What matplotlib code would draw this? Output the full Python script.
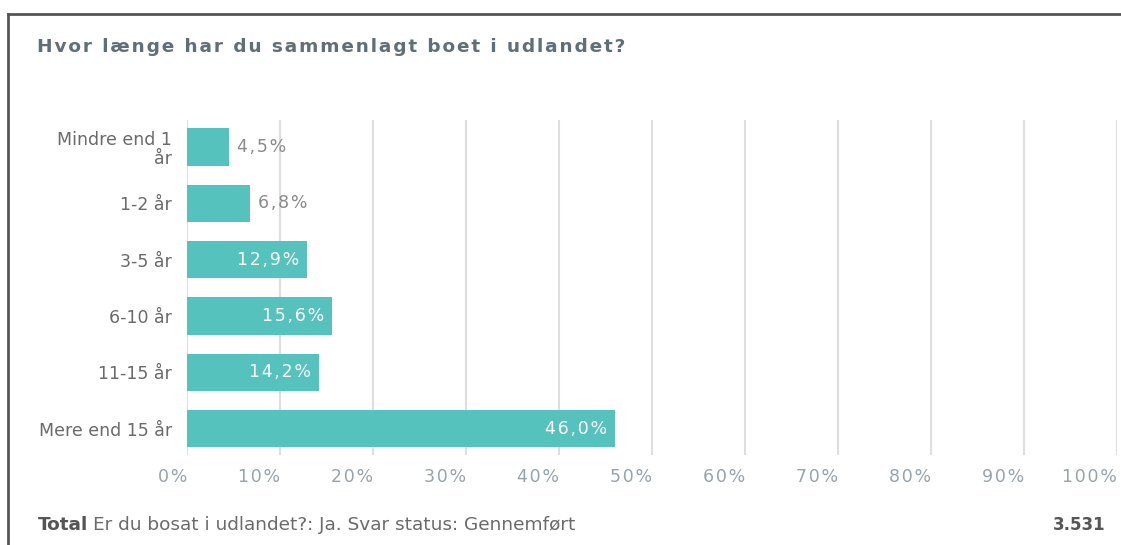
import matplotlib.pyplot as plt
from matplotlib.lines import Line2D

# data
categories = ['Mindre end 1\når', '1-2 år', '3-5 år', '6-10 år', '11-15 år', 'Mere end 15 år']
shares = [4.5, 6.8, 12.9, 15.6, 14.2, 46.0]
value_labels = ['4,5%', '6,8%', '12,9%', '15,6%', '14,2%', '46,0%']
ticks = [0, 10, 20, 30, 40, 50, 60, 70, 80, 90, 100]
tick_labels = ['%d%%' % t for t in ticks]

title = 'Hvor længe har du sammenlagt boet i udlandet?'
footer_bold = 'Total'
footer_text = 'Er du bosat i udlandet?: Ja. Svar status: Gennemført'
total_n = '3.531'

teal = '#56c2bd'
grid_col = '#dedede'
HAIR = '\u200a'


def spaced(s, n=1):
    # fake letter spacing with hair spaces
    return (HAIR * n).join(s)


W, H = 1121, 545
fig = plt.figure(figsize=(W / 100, H / 100), dpi=100)
fig.patch.set_facecolor('white')

ax = fig.add_axes([187 / W, 1 - 455 / H, 930 / W, 335 / H])
ypos = list(range(len(categories)))
ax.barh(ypos, shares, height=0.66, color=teal, zorder=2)
ax.set_xlim(0, 100)
ax.set_ylim(5.47, -0.48)

for t in ticks:
    ax.axvline(t, color=grid_col, lw=1.5, zorder=1)

for spine in ax.spines.values():
    spine.set_visible(False)
ax.tick_params(axis='both', length=0)
ax.set_xticks(ticks)
ax.set_xticklabels([spaced(t, 1) for t in tick_labels], fontsize=12.5, color='#97a3ab',
                   family='DejaVu Sans', ha='right')
ax.tick_params(axis='x', pad=9)
ax.set_yticks(ypos)
ax.set_yticklabels(categories, fontsize=12.5, color='#6a6a6a', family='DejaVu Sans',
                   linespacing=1.05)
ax.tick_params(axis='y', pad=11)

for y, v, lab in zip(ypos, shares, value_labels):
    if v >= 10:
        ax.annotate(spaced(lab, 1), (v, y), xytext=(-8, 0), textcoords='offset pixels',
                    ha='right', va='center', color='white', fontsize=12.5,
                    family='DejaVu Sans', zorder=3)
    else:
        ax.annotate(spaced(lab, 1), (v, y), xytext=(8, 0), textcoords='offset pixels',
                    ha='left', va='center', color='#8a8a8a', fontsize=12.5,
                    family='DejaVu Sans', zorder=3)

# frame of the screenshot (top and left edges only)
fig.add_artist(Line2D([8 / W, 1], [1 - 14 / H, 1 - 14 / H], transform=fig.transFigure,
                      color='#555555', lw=2))
fig.add_artist(Line2D([8 / W, 8 / W], [0, 1 - 14 / H], transform=fig.transFigure,
                      color='#555555', lw=2))

fig.text(37 / W, 1 - 47 / H, spaced(title, 1), fontsize=13.3, fontweight='bold',
         color='#5f6f78', family='DejaVu Sans', va='center', ha='left')

t1 = fig.text(38 / W, 1 - 525 / H, footer_bold, fontsize=13.3, fontweight='bold',
              color='#555555', family='DejaVu Sans', va='center', ha='left')
fig.canvas.draw()
bb = t1.get_window_extent()
fig.text(bb.x1 / W + 5 / W, 1 - 525 / H, footer_text, fontsize=13.3,
         color='#6a6a6a', family='DejaVu Sans', va='center', ha='left')
fig.text(1106 / W, 1 - 525 / H, total_n, fontsize=12, fontweight='bold',
         color='#555555', family='DejaVu Sans', va='center', ha='right')

fig.savefig('out.png', dpi=100, facecolor='white')
